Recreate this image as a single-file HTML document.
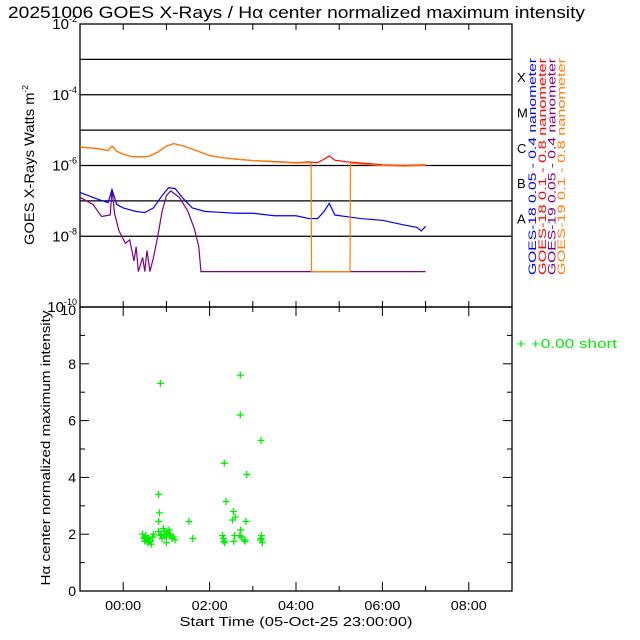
<!DOCTYPE html>
<html><head><meta charset="utf-8"><style>
body{margin:0;background:#fff}
svg{display:block;font-family:"Liberation Sans",sans-serif}
</style></head><body>
<svg id="c" width="640" height="640" viewBox="0 0 640 640">
<text x="8" y="18" font-size="17" fill="#000" textLength="577" lengthAdjust="spacingAndGlyphs">20251006 GOES X-Rays / Hα center normalized maximum intensity</text>
<g id="topPanel"></g>
<g id="botPanel"></g>
</svg>
<script>
// X-ray series: time in hours relative to 00:00 label, log10 flux
const longT = [-1,-0.6,-0.35,-0.26,-0.15,0,0.2,0.4,0.6,0.8,1.0,1.17,1.4,1.7,2.0,2.3,2.6,3.0,3.5,4.0,4.3,4.5,4.65,4.77,4.9,5.2,5.5,6.0,6.5,7.0];
const longV = [-5.48,-5.52,-5.58,-5.45,-5.6,-5.68,-5.75,-5.76,-5.74,-5.62,-5.45,-5.38,-5.45,-5.58,-5.72,-5.78,-5.82,-5.86,-5.89,-5.92,-5.9,-5.92,-5.82,-5.73,-5.85,-5.9,-5.93,-5.98,-6.0,-5.98];
const g19LongT = [-1,-0.6,-0.35,-0.26,-0.15,0,0.2,0.4,0.6,0.8,1.0,1.17,1.4,1.7,2.0,2.3,2.6,3.0,3.5,4.0,4.3,4.35,4.36,5.25,5.26,5.5,6.0,6.5,7.0];
const g19LongV = [-5.48,-5.52,-5.58,-5.45,-5.6,-5.68,-5.75,-5.76,-5.74,-5.62,-5.45,-5.38,-5.45,-5.58,-5.72,-5.78,-5.82,-5.86,-5.9,-5.93,-5.92,-5.93,-9,-9,-5.93,-5.96,-6.0,-6.02,-6.0];
const g18ShortT = [-1,-0.6,-0.35,-0.26,-0.15,0,0.3,0.5,0.7,0.9,1.05,1.2,1.4,1.6,1.9,2.2,2.6,3.0,3.5,4.0,4.3,4.5,4.65,4.77,4.9,5.2,5.5,6.0,6.5,6.8,6.9,7.0];
const g18ShortV = [-6.76,-6.95,-7.05,-6.68,-7.1,-7.2,-7.3,-7.33,-7.2,-6.85,-6.63,-6.65,-6.95,-7.2,-7.3,-7.32,-7.35,-7.35,-7.42,-7.42,-7.5,-7.5,-7.3,-7.07,-7.4,-7.45,-7.5,-7.55,-7.68,-7.75,-7.85,-7.72];
const g19ShortT = [-1,-0.7,-0.5,-0.3,-0.26,-0.2,-0.1,0.05,0.15,0.25,0.3,0.35,0.45,0.5,0.55,0.62,0.7,0.8,0.9,1.0,1.1,1.3,1.5,1.65,1.75,1.8,7.0];
const g19ShortV = [-6.9,-7.1,-7.44,-7.4,-6.68,-7.35,-7.84,-8.2,-8.1,-8.7,-8.3,-9,-8.6,-9,-8.4,-9,-8.6,-8.0,-7.3,-6.85,-6.72,-6.9,-7.3,-7.8,-8.3,-9,-9];
// H-alpha scatter
const haT = [0.86,2.71,2.71,3.19,2.34,2.86,0.82,2.38,0.84,2.55,2.59,2.53,0.82,1.52,2.84,1.61,
 0.45,0.48,0.5,0.52,0.55,0.57,0.6,0.62,0.65,0.68,0.5,0.56,0.63,0.7,
 0.82,0.86,0.9,0.93,0.96,1.0,1.03,1.06,1.1,1.13,1.16,1.2,0.88,0.95,1.0,1.08,
 2.3,2.32,2.35,2.33,2.56,2.58,2.7,2.72,2.74,2.8,2.82,3.18,3.2,3.22,3.19];
const haV = [7.31,7.6,6.2,5.3,4.5,4.1,3.4,3.15,2.75,2.8,2.6,2.5,2.45,2.45,2.45,1.85,
 2.0,1.85,1.75,1.95,1.8,1.7,1.85,1.75,1.65,1.9,1.9,1.8,1.75,2.0,
 2.1,1.95,1.85,2.2,2.0,1.9,2.05,2.15,1.95,1.85,1.9,1.8,2.0,2.1,1.7,2.0,
 1.95,1.85,1.7,1.75,1.75,1.95,1.95,2.15,1.9,1.8,1.75,1.8,1.95,1.7,1.85];
const yTopTicks = [-2,-4,-6,-8,-10];
const yBotTicks = [0,2,4,6,8,10];
const xTickLabels = ['00:00','02:00','04:00','06:00','08:00'];
const xTickHours = [0,2,4,6,8];
const gClassLetters = ['X','M','C','B','A'];
const gClassLogs = [-3.5,-4.5,-5.5,-6.5,-7.5];

const NS='http://www.w3.org/2000/svg';
const X0=80,X1=512;
const xs=t=>X0+(t+1)/10*(X1-X0);
const yT=l=>24+(-2-l)*(307-24)/8;
const yB=v=>591-v*(591-307)/10;
function mk(tag,attrs,parent,txt){const e=document.createElementNS(NS,tag);for(const k in attrs)e.setAttribute(k,attrs[k]);if(txt!==undefined)e.textContent=txt;parent.appendChild(e);return e;}
const topG=document.getElementById('topPanel'),botG=document.getElementById('botPanel');

for(let l=-3;l>=-8;l--){
 const ln=mk('line',{x1:X0,x2:X1,y1:yT(l),y2:yT(l),stroke:'#000','stroke-width':1.3},topG);
 
 
}
const fr=mk('rect',{x:X0,y:24,width:X1-X0,height:283,fill:'none',stroke:'#000','stroke-width':1.3},topG);


for(let h=0;h<=8;h++){mk('line',{x1:xs(h),x2:xs(h),y1:307,y2:301,stroke:'#000'},topG);mk('line',{x1:xs(h),x2:xs(h),y1:24,y2:30,stroke:'#000'},topG);}
yTopTicks.forEach(l=>{
 const t=mk('text',{x:77,y:yT(l)+5,'font-size':15,'text-anchor':'end'},topG);
 
 
 mk('tspan',{},t,'10');mk('tspan',{dy:-7,'font-size':9},t,String(l));
});
gClassLetters.forEach((c,i)=>{
 const t=mk('text',{x:517,y:yT(gClassLogs[i])+5,'font-size':13},topG,c);
 
 
});
function series(T,V,col,name){
 const p=mk('polyline',{points:T.map((t,i)=>xs(t)+','+yT(V[i])).join(' '),fill:'none',stroke:col,'stroke-width':1.2},topG);
 
 
}
series(g19ShortT,g19ShortV,'#800080','goes19-short-line');
series(g18ShortT,g18ShortV,'#0000ff','goes18-short-line');
series(longT,longV,'#ff0000','goes18-long-line');
series(g19LongT,g19LongV,'#ff8000','goes19-long-line');
const yt1=mk('text',{transform:'translate(34,165) rotate(-90)','font-size':14,'text-anchor':'middle',textLength:160,lengthAdjust:'spacingAndGlyphs'},topG);


mk('tspan',{},yt1,'GOES X-Rays Watts m');mk('tspan',{dy:-6,'font-size':8},yt1,'-2');
const leg=[['GOES-18 0.05 - 0.4 nanometer','#0000ff'],['GOES-18 0.1 - 0.8 nanometer','#ff0000'],['GOES-19 0.05 - 0.4 nanometer','#800080'],['GOES-19 0.1 - 0.8 nanometer','#ff8000']];
const legX=[536,546,555.5,565];
leg.forEach((l,i)=>{
 const t=mk('text',{transform:'translate('+legX[i]+',275) rotate(-90)','font-size':11,fill:l[1],textLength:217,lengthAdjust:'spacingAndGlyphs'},topG,l[0]);
 
 
});

const fb=mk('rect',{x:X0,y:307,width:X1-X0,height:284,fill:'none',stroke:'#000','stroke-width':1.3},botG);


for(let h=0;h<=8;h++){const L=h%2==0?9:5;mk('line',{x1:xs(h),x2:xs(h),y1:591,y2:591-L,stroke:'#000'},botG);mk('line',{x1:xs(h),x2:xs(h),y1:307,y2:307+L,stroke:'#000'},botG);}
for(let v=0;v<=10;v++){const L=v%2==0?9:5;mk('line',{x1:X0,x2:X0+L,y1:yB(v),y2:yB(v),stroke:'#000'},botG);mk('line',{x1:X1,x2:X1-L,y1:yB(v),y2:yB(v),stroke:'#000'},botG);}
yBotTicks.forEach(v=>{
 const t=mk('text',{x:76,y:(v===10?yB(v)+8:yB(v)+5),'font-size':14,'text-anchor':'end'},botG,String(v));
 
 
});
xTickLabels.forEach((s,i)=>{
 const t=mk('text',{x:xs(xTickHours[i]),y:610,'font-size':13,'text-anchor':'middle',textLength:36,lengthAdjust:'spacingAndGlyphs'},botG,s);
 
 
});
const xt=mk('text',{x:296,y:626,'font-size':13,'text-anchor':'middle',textLength:233,lengthAdjust:'spacingAndGlyphs'},botG,'Start Time (05-Oct-25 23:00:00)');


const yt2=mk('text',{transform:'translate(50,448) rotate(-90)','font-size':13,'text-anchor':'middle',textLength:275,lengthAdjust:'spacingAndGlyphs'},botG,'Hα center normalized maximum intensity');


haT.forEach((t,i)=>{
 const x=xs(t),y=yB(haV[i]);
 const p=mk('path',{d:`M${x-3.5},${y}H${x+3.5}M${x},${y-3.5}V${y+3.5}`,stroke:'#00ee00','stroke-width':1.3},botG);
 
 
});
const lg=mk('text',{x:516,y:348,'font-size':13,fill:'#00ee00',textLength:101,lengthAdjust:'spacingAndGlyphs'},botG,'+  +0.00 short');


</script>
</body></html>
